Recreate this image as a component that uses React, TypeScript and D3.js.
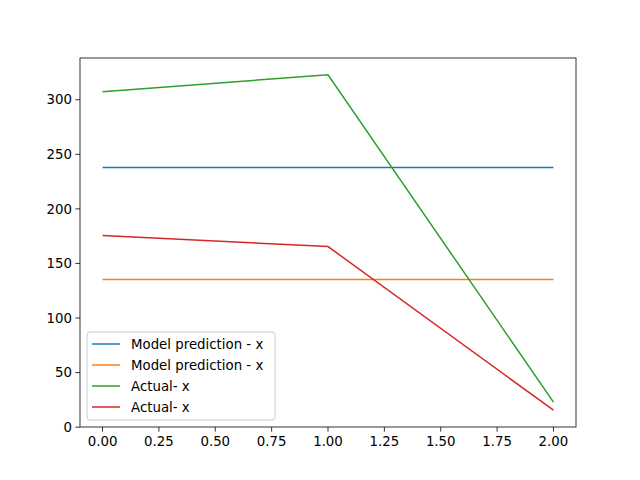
import React from "react";
import * as d3 from "d3";

const xs = [0, 1, 2];
const modelA = [238, 238, 238];
const modelB = [135.4, 135.4, 135.4];
const actualA = [307.3, 322.9, 22.9];
const actualB = [175.6, 165.5, 15.5];
const seriesNames = ["Model prediction - x", "Model prediction - x", "Actual- x", "Actual- x"];
const colors = ["#1f77b4", "#ff7f0e", "#2ca02c", "#d62728"];
const xTicks = [0, 0.25, 0.5, 0.75, 1, 1.25, 1.5, 1.75, 2];
const yTicks = [0, 50, 100, 150, 200, 250, 300];

export default function App() {
  const L = 80, R = 576, T = 58, B = 427;
  const all = [modelA, modelB, actualA, actualB];
  const vals = all.flat();
  const mn = d3.min(vals)!, mx = d3.max(vals)!, r = mx - mn;
  const x = d3.scaleLinear().domain([-0.1, 2.1]).range([L, R]);
  const y = d3.scaleLinear().domain([mn - 0.05 * r, mx + 0.05 * r]).range([B, T]);
  const line = d3.line<number>().x((_, i) => x(xs[i])).y((v) => y(v));
  const font = "DejaVu Sans, sans-serif";
  return (
    <svg width={640} height={480} style={{ position: "absolute", left: 0, top: 0 }}>
      <rect width={640} height={480} fill="white" />
      {all.map((s, i) => (
        <path key={i} d={line(s)!} fill="none" stroke={colors[i]} strokeWidth={1.5} />
      ))}
      <rect x={L} y={T} width={R - L} height={B - T} fill="none" stroke="black" strokeWidth={0.8} />
      {xTicks.map((t) => (
        <g key={t}>
          <line x1={x(t)} x2={x(t)} y1={B} y2={B + 4.67} stroke="black" strokeWidth={0.8} />
          <text x={x(t)} y={B + 19} textAnchor="middle" fontSize={13.33} fontFamily={font}>{t.toFixed(2)}</text>
        </g>
      ))}
      {yTicks.map((t) => (
        <g key={t}>
          <line x1={L - 4.67} x2={L} y1={y(t)} y2={y(t)} stroke="black" strokeWidth={0.8} />
          <text x={L - 8} y={y(t) + 4.7} textAnchor="end" fontSize={13.33} fontFamily={font}>{t}</text>
        </g>
      ))}
      <rect x={87} y={332} width={188} height={88} rx={3} fill="white" fillOpacity={0.8} stroke="#cccccc" strokeWidth={1} />
      {seriesNames.map((n, i) => {
        const yy = 344 + i * 21;
        return (
          <g key={i}>
            <line x1={92} x2={120} y1={yy} y2={yy} stroke={colors[i]} strokeWidth={1.5} />
            <text x={131} y={yy + 4.7} fontSize={13.33} fontFamily={font}>{n}</text>
          </g>
        );
      })}
    </svg>
  );
}
